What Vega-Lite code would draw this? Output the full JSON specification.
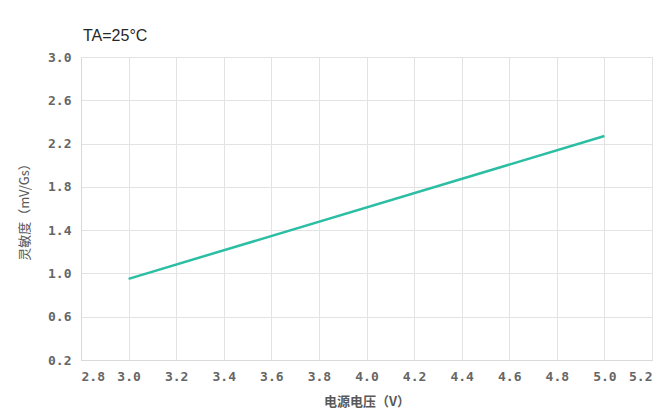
{
  "$schema": "https://vega.github.io/schema/vega-lite/v6.json",
  "width": 571,
  "height": 303,
  "autosize": {"type": "none"},
  "padding": {"left": 81, "top": 57, "right": 12, "bottom": 60},
  "background": "white",
  "title": {
    "text": "TA=25°C",
    "anchor": "start",
    "frame": "group",
    "offset": 7,
    "dx": 2,
    "font": "Liberation Sans",
    "fontSize": 16,
    "fontWeight": "normal",
    "color": "#262626"
  },
  "data": {
    "values": [
      {"voltage": 3.0, "sensitivity": 0.95},
      {"voltage": 5.0, "sensitivity": 2.27}
    ]
  },
  "mark": {"type": "line", "color": "#2cbea3", "strokeWidth": 2.5},
  "encoding": {
    "x": {
      "field": "voltage",
      "type": "quantitative",
      "scale": {"domain": [2.8, 5.2], "nice": false, "zero": false},
      "axis": {
        "title": "电源电压（V）",
        "values": [2.8, 3.0, 3.2, 3.4, 3.6, 3.8, 4.0, 4.2, 4.4, 4.6, 4.8, 5.0, 5.2],
        "format": ".1f",
        "titlePadding": 12,
        "titleFontWeight": "bold"
      }
    },
    "y": {
      "field": "sensitivity",
      "type": "quantitative",
      "scale": {"domain": [0.2, 3.0], "nice": false, "zero": false},
      "axis": {
        "title": "灵敏度（mV/Gs）",
        "values": [0.2, 0.6, 1.0, 1.4, 1.8, 2.2, 2.6, 3.0],
        "format": ".1f",
        "titlePadding": 16,
        "titleFontWeight": "normal"
      }
    }
  },
  "config": {
    "view": {"stroke": "#d9d9d9", "strokeWidth": 1},
    "axis": {
      "grid": true,
      "gridColor": "#e3e3e3",
      "gridWidth": 1,
      "domain": true,
      "domainColor": "#d9d9d9",
      "ticks": false,
      "labelPadding": 10,
      "labelFont": "DejaVu Sans Mono",
      "labelFontSize": 13,
      "labelFontWeight": "bold",
      "labelColor": "#666666",
      "titleFont": "Noto Sans CJK SC",
      "titleFontSize": 13,
      "titleColor": "#595959"
    }
  }
}
